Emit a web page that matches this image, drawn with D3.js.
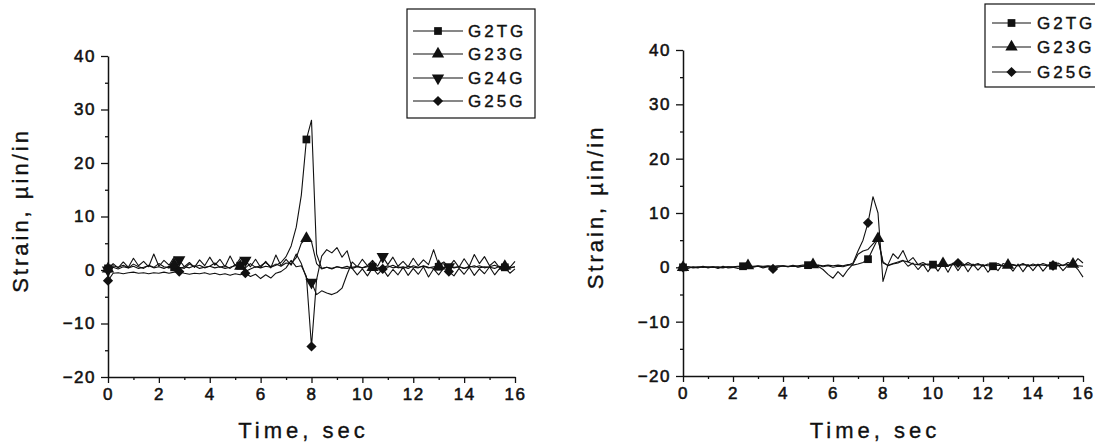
<!DOCTYPE html>
<html><head><meta charset="utf-8">
<script src="https://cdn.jsdelivr.net/npm/d3@7"></script>
<style>
body{margin:0;background:#fff}
text{font-family:Arial,"Liberation Sans",sans-serif;fill:#111}
</style>
</head><body>
<svg id="c" width="1095" height="445"></svg>
<script>
// ---------- shared sampling (seconds) ----------
const time = [0,0.2,0.4,0.6,0.8,1,1.2,1.4,1.6,1.8,2,2.2,2.4,2.6,2.8,3,3.2,3.4,3.6,3.8,4,4.2,4.4,4.6,4.8,5,5.2,5.4,5.6,5.8,6,6.2,6.4,6.6,6.8,7,7.2,7.4,7.6,7.8,8,8.2,8.4,8.6,8.8,9,9.2,9.4,9.6,9.8,10,10.2,10.4,10.6,10.8,11,11.2,11.4,11.6,11.8,12,12.2,12.4,12.6,12.8,13,13.2,13.4,13.6,13.8,14,14.2,14.4,14.6,14.8,15,15.2,15.4,15.6,15.8,16];

const xTicks = [0,2,4,6,8,10,12,14,16];
const xMinor = [1,3,5,7,9,11,13,15];
const yTicks = [-20,-10,0,10,20,30,40];
const yMinor = [-15,-5,5,15,25,35];

// ---------- left panel ----------
const leftNames = ["G2TG","G23G","G24G","G25G"];
const leftG2TG = [0.3,0.5,0.2,0.6,0.4,0.7,0.3,0.5,0.8,0.4,
  0.6,0.3,0.7,0.5,0.2,0.6,0.4,0.8,0.3,0.5,
  0.7,0.4,0.6,0.3,0.5,0.8,0.8,-0.3,0.2,0.6,
  0.4,0.7,0.5,0.9,1.4,2.5,4.5,8.0,14.0,24.4,
  28.0,3.0,0.3,0.5,0.2,0.6,0.4,0.3,0.5,0.7,
  0.4,0.6,0.6,0.3,0.5,0.8,0.4,0.6,0.3,0.7,
  0.5,0.4,0.8,0.5,0.3,0.6,0.5,0.7,0.4,0.6,
  0.3,0.5,0.8,0.4,0.6,0.5,0.3,0.7,0.5,0.4,0.6];
const leftG23G = [0.2,0.8,0.5,0.9,0.4,1.1,0.6,0.3,0.9,0.5,
  1.2,0.6,0.4,1.0,0.5,0.3,1.1,0.6,0.9,0.4,
  0.7,1.3,0.5,0.8,0.3,1.0,0.7,0.4,1.2,0.5,
  0.8,1.4,0.6,1.1,0.7,1.3,1.2,2.3,5.0,5.9,
  5.3,1.2,0.2,0.5,0.3,0.6,0.4,0.7,0.3,0.6,
  0.4,0.8,0.5,0.3,0.7,0.5,0.9,0.4,0.6,0.3,
  0.8,0.5,0.7,0.4,0.6,0.7,0.4,0.8,0.5,0.6,
  0.3,0.7,0.5,0.8,0.4,0.6,0.9,0.5,0.7,0.4,0.6];
const leftG24G = [0.0,1.2,0.4,1.5,0.5,2.2,0.8,1.6,0.6,3.0,
  0.7,1.8,0.9,2.4,1.9,0.6,1.4,0.5,1.9,0.8,
  2.4,0.9,2.0,0.6,2.6,0.8,2.2,1.8,0.6,2.0,
  0.5,1.6,0.4,2.8,0.8,2.0,0.9,3.0,1.2,-1.5,
  -2.3,-4.6,-3.9,-4.3,-4.6,-4.2,-3.4,-0.8,1.5,0.6,
  2.0,0.8,1.8,0.7,2.5,1.0,2.4,0.7,1.6,0.6,
  2.2,0.8,1.9,1.0,3.8,0.9,1.5,0.6,1.8,0.5,
  2.1,0.7,2.9,1.2,2.5,0.8,1.6,0.4,1.2,0.5,1.6];
const leftG25G = [-2.0,-0.6,-0.5,-0.7,-0.5,-0.4,-0.6,-0.5,-0.7,-0.5,
  -0.6,-0.4,-0.6,-0.4,-0.3,-0.6,-0.8,-0.6,-0.7,-0.5,
  -0.8,-0.6,-0.9,-0.7,-1.0,-0.7,-0.9,-0.6,-1.2,-0.8,
  -1.6,-0.9,-1.5,-0.6,-0.3,0.4,1.8,0.6,0.8,-1.2,
  -14.3,-1.8,2.6,3.8,3.2,4.2,2.4,3.6,0.3,-0.9,
  0.2,-1.1,0.4,-0.8,0.2,-1.2,0.1,-0.9,0.5,-1.0,
  0.3,-0.8,0.6,-1.3,0.2,-0.9,0.4,-0.3,-1.1,0.3,
  -0.8,0.5,-1.0,0.2,-0.7,0.6,-0.9,0.3,0.5,-0.6,0.2];
const leftMarkG2TG = [0,2.6,5.2,7.8,10.4,13.0,15.6];
const leftMarkG23G = [0,2.6,5.2,7.8,10.4,13.0,15.6];
const leftMarkG24G = [0,2.8,5.4,8.0,10.8,13.4];
const leftMarkG25G = [0,2.8,5.4,8.0,10.8,13.4];

// ---------- right panel ----------
const rightNames = ["G2TG","G23G","G25G"];
const rightG2TG = [0.0,0.1,0.0,0.1,0.0,0.1,0.0,0.1,0.0,0.1,
  0.1,0.2,0.2,0.3,0.2,0.3,0.2,0.3,0.2,0.3,
  0.3,0.2,0.3,0.3,0.4,0.4,0.3,0.4,0.3,0.4,
  0.3,0.4,0.3,0.5,0.4,0.6,0.9,1.5,3.4,5.3,
  1.0,0.3,0.6,0.8,1.2,1.0,0.6,0.5,0.4,0.6,
  0.5,0.4,0.6,0.3,0.5,0.6,0.4,0.5,0.3,0.5,
  0.4,0.3,0.2,0.4,0.3,0.5,0.4,0.3,0.5,0.4,
  0.3,0.5,0.4,0.3,0.3,0.3,0.4,0.5,0.4,0.3,0.2];
const rightG23G = [0.0,0.1,-0.1,0.0,0.1,0.0,0.1,0.0,-0.1,0.1,
  0.0,0.1,0.2,0.3,0.1,0.2,0.1,0.2,0.1,0.2,
  0.2,0.1,0.2,0.1,0.2,0.3,0.5,0.2,-0.4,-1.3,
  -2.0,-0.8,-1.7,-0.4,0.6,2.4,3.0,3.3,4.3,5.3,
  0.8,0.4,0.7,1.0,1.3,0.2,0.8,-0.4,0.6,-0.8,
  0.5,-0.7,0.7,-0.9,0.8,-0.6,0.7,-0.8,0.6,-0.5,
  0.5,-0.9,0.2,-0.6,0.7,0.4,-0.7,0.6,-0.8,0.5,
  -0.6,0.6,-0.7,0.4,-0.5,0.5,-0.6,0.4,0.6,-0.4,-1.8];
const rightG25G = [0.0,-0.2,0.1,-0.1,0.2,-0.1,0.1,-0.2,0.2,-0.1,
  0.0,-0.2,0.1,0.3,0.0,0.2,-0.1,0.1,-0.3,0.0,
  0.3,0.1,0.4,0.0,0.2,0.3,0.0,0.4,0.1,0.3,
  0.0,0.2,0.1,0.4,0.8,3.0,5.0,8.2,13.0,10.0,
  -2.6,0.5,2.5,1.6,3.1,1.0,1.8,0.5,0.9,0.4,
  0.8,0.3,0.9,0.4,0.7,0.8,0.3,0.9,0.4,0.7,
  0.2,0.6,0.3,0.7,0.2,0.6,0.5,0.3,0.7,0.2,
  0.6,0.3,0.7,0.4,0.4,0.8,0.3,0.9,0.5,1.6,0.8];
const rightMarkG2TG = [0,2.4,5.0,7.4,10.0,12.4,14.8];
const rightMarkG23G = [0,2.6,5.2,7.8,10.4,13.0,15.6];
const rightMarkG25G = [0,3.6,7.4,11.0,14.8];

// ---------- drawing ----------
const svg = d3.select("#c");
const ink = "#111";

const symbolDefs = {
  square:  {type: d3.symbolSquare, size: 60, rot: 0},
  up:      {type: d3.symbolTriangle, size: 66, rot: 0},
  down:    {type: d3.symbolTriangle, size: 66, rot: 180},
  diamond: {type: d3.symbolSquare, size: 52, rot: 45}
};
function drawSymbol(g, kind, x, y) {
  const s = symbolDefs[kind];
  g.append("path")
    .attr("d", d3.symbol().type(s.type).size(s.size)())
    .attr("transform", `translate(${x},${y}) rotate(${s.rot})`)
    .attr("fill", ink);
}

function panel(cfg) {
  const x = d3.scaleLinear().domain([0,16]).range([cfg.left, cfg.right]);
  const y = d3.scaleLinear().domain([-20,40]).range([cfg.bottom, cfg.top]);
  const g = svg.append("g");

  // axes
  const xa = g.append("g").attr("transform", `translate(0,${cfg.bottom})`)
    .call(d3.axisBottom(x).tickValues(xTicks).tickSize(6).tickSizeOuter(0).tickPadding(5).tickFormat(d3.format("d")));
  g.append("g").attr("transform", `translate(0,${cfg.bottom})`)
    .call(d3.axisBottom(x).tickValues(xMinor).tickSize(3).tickSizeOuter(0).tickFormat(""))
    .select(".domain").remove();
  const ya = g.append("g").attr("transform", `translate(${cfg.left},0)`)
    .call(d3.axisLeft(y).tickValues(yTicks).tickSize(7).tickSizeOuter(0).tickPadding(5).tickFormat(d3.format("d")));
  g.append("g").attr("transform", `translate(${cfg.left},0)`)
    .call(d3.axisLeft(y).tickValues(yMinor).tickSize(3).tickSizeOuter(0).tickFormat(""))
    .select(".domain").remove();
  g.selectAll(".domain").attr("stroke", ink).attr("stroke-width", 1.5);
  g.selectAll(".tick line").attr("stroke", ink).attr("stroke-width", 1.3);
  g.selectAll(".tick text").attr("font-size", 17).attr("fill", ink)
    .attr("stroke", ink).attr("stroke-width", 0.55)
    .style("letter-spacing", "1.5px").attr("font-family", "Arial, 'Liberation Sans', sans-serif");
  xa.selectAll(".tick text").attr("dy", "0.72em");

  // titles
  g.append("text").attr("x", (cfg.left + cfg.right) / 2 - 8).attr("y", 438)
    .attr("text-anchor", "middle").attr("font-size", 22).style("letter-spacing", "4px")
    .attr("stroke", ink).attr("stroke-width", 0.35)
    .text("Time, sec");
  g.append("text")
    .attr("transform", `translate(${cfg.left - 80},${(cfg.top + cfg.bottom) / 2 - 6}) rotate(-90)`)
    .attr("text-anchor", "middle").attr("font-size", 22).style("letter-spacing", "3px")
    .attr("stroke", ink).attr("stroke-width", 0.35)
    .text("Strain, \u00b5in/in");

  // lines
  const line = d3.line().x((d, i) => x(time[i])).y(d => y(d));
  cfg.series.forEach(s => {
    g.append("path").datum(s.values).attr("d", line)
      .attr("fill", "none").attr("stroke", ink).attr("stroke-width", 1.1)
      .attr("stroke-linejoin", "round");
  });
  cfg.series.forEach(s => {
    s.marks.forEach(t => {
      const i = time.findIndex(v => Math.abs(v - t) < 1e-6);
      drawSymbol(g, s.symbol, x(time[i]), y(s.values[i]));
    });
  });

  // legend
  const L = cfg.legend;
  g.append("rect").attr("x", L.x).attr("y", L.y).attr("width", L.w).attr("height", L.h)
    .attr("fill", "#fff").attr("stroke", ink).attr("stroke-width", 1.2);
  cfg.series.forEach((s, k) => {
    const yy = L.rowY[k];
    g.append("line").attr("x1", L.lineX1).attr("x2", L.lineX2).attr("y1", yy).attr("y2", yy)
      .attr("stroke", ink).attr("stroke-width", 1.1);
    drawSymbol(g, s.symbol, (L.lineX1 + L.lineX2) / 2, yy);
    g.append("text").attr("x", L.textX).attr("y", yy).attr("dy", "0.36em")
      .attr("font-size", 17).style("letter-spacing", "3px")
      .attr("stroke", ink).attr("stroke-width", 0.4)
      .text(s.name);
  });
}

panel({
  left: 108, right: 515, top: 56, bottom: 377,
  series: [
    {name: leftNames[0], values: leftG2TG, marks: leftMarkG2TG, symbol: "square"},
    {name: leftNames[1], values: leftG23G, marks: leftMarkG23G, symbol: "up"},
    {name: leftNames[2], values: leftG24G, marks: leftMarkG24G, symbol: "down"},
    {name: leftNames[3], values: leftG25G, marks: leftMarkG25G, symbol: "diamond"}
  ],
  legend: {x: 407, y: 9, w: 128, h: 109, rowY: [31, 54, 78, 101], lineX1: 413, lineX2: 463, textX: 468}
});

panel({
  left: 683, right: 1083, top: 50, bottom: 376,
  series: [
    {name: rightNames[0], values: rightG2TG, marks: rightMarkG2TG, symbol: "square"},
    {name: rightNames[1], values: rightG23G, marks: rightMarkG23G, symbol: "up"},
    {name: rightNames[2], values: rightG25G, marks: rightMarkG25G, symbol: "diamond"}
  ],
  legend: {x: 985, y: 4, w: 130, h: 83, rowY: [23, 47, 72], lineX1: 992, lineX2: 1031, textX: 1037}
});
</script>
</body></html>
